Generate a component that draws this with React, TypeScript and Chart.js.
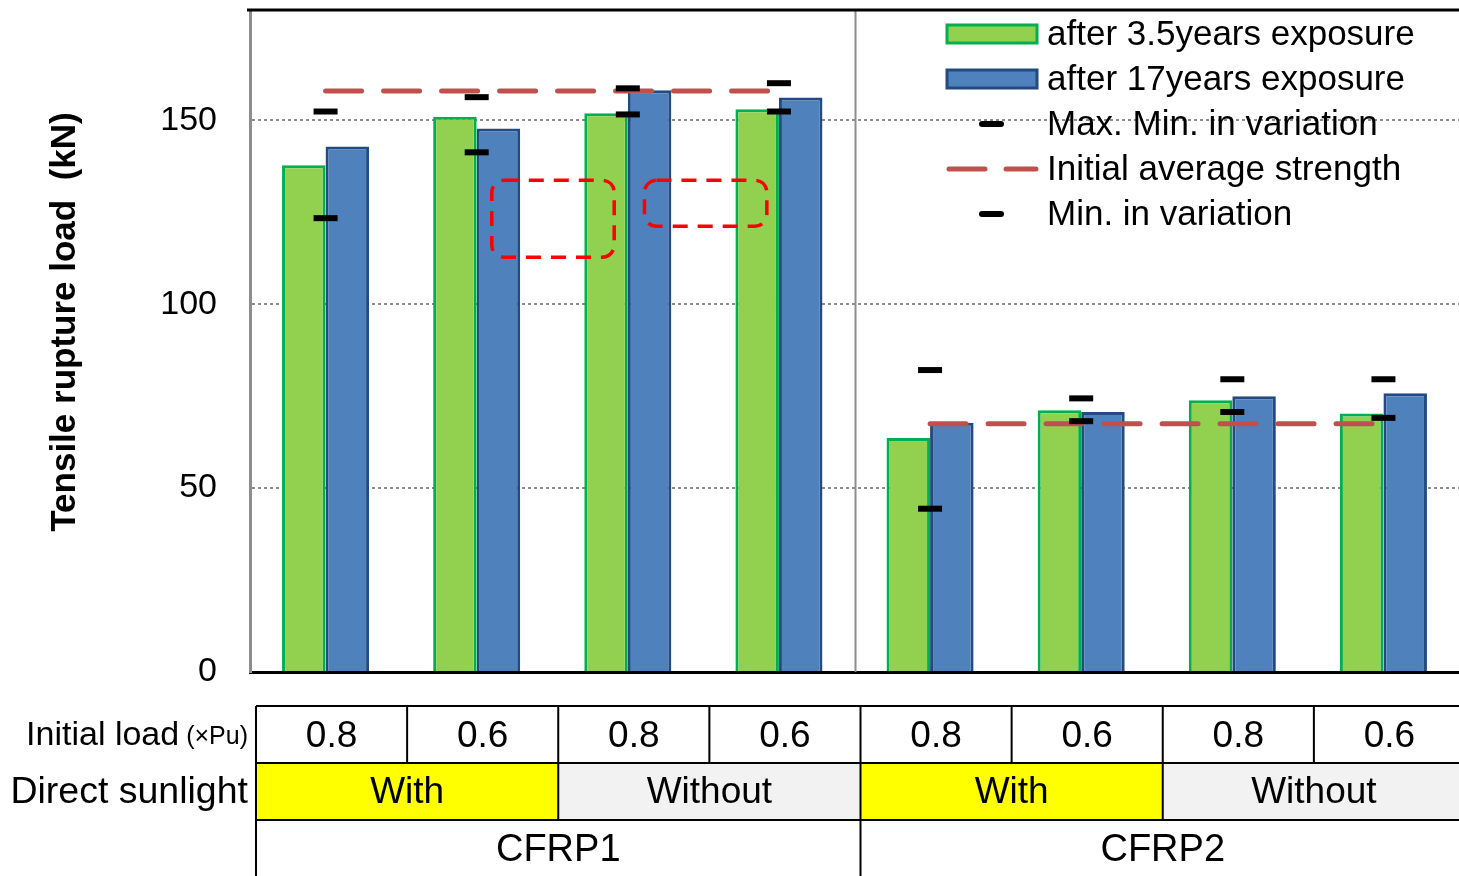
import React, { useEffect, useRef } from 'react';
import { Chart, registerables } from 'chart.js';

Chart.register(...registerables);

const FONT = '"Liberation Sans", Arial, sans-serif';

const categories = [
  'CFRP1 0.8 With', 'CFRP1 0.6 With', 'CFRP1 0.8 Without', 'CFRP1 0.6 Without',
  'CFRP2 0.8 With', 'CFRP2 0.6 With', 'CFRP2 0.8 Without', 'CFRP2 0.6 Without',
];
const initialLoad = ['0.8', '0.6', '0.8', '0.6', '0.8', '0.6', '0.8', '0.6'];
const directSunlight = ['With', 'With', 'Without', 'Without', 'With', 'With', 'Without', 'Without'];
const material = ['CFRP1', 'CFRP1', 'CFRP1', 'CFRP1', 'CFRP2', 'CFRP2', 'CFRP2', 'CFRP2'];

const after35Years = [137.8, 151, 151.9, 153, 63.6, 71.2, 73.9, 70.3];
const after17Years = [142.9, 147.8, 158.2, 156.2, 67.8, 70.7, 75, 75.8];
const maxInVariation = [152.4, 156.3, 158.7, 160.1, 82.1, 74.4, 79.6, 79.6];
const minInVariation = [123.4, 141.3, 151.6, 152.4, 44.4, 68.2, 70.7, 69.1];
const initialAvgCFRP1 = [158, 158, 158, 158, null, null, null, null];
const initialAvgCFRP2 = [null, null, null, null, 67.5, 67.5, 67.5, 67.5];

const yTickValues = [0, 50, 100, 150];
const Y_MIN = 0;
const Y_MAX = 180;

// highlighted areas: category-index span and value span
const highlightFrom = [1.1, 2.11];
const highlightTo = [1.91, 2.92];
const highlightLow = [112.8, 121.2];
const highlightHigh = [133.7, 133.7];

const legendLabels = [
  'after 3.5years exposure',
  'after 17years exposure',
  'Max. Min. in variation',
  'Initial average strength',
  'Min. in variation',
];

const GREEN = '#92D050';
const GREEN_BORDER = '#00B050';
const BLUE = '#4F81BD';
const BLUE_BORDER = '#234B82';
const RED = '#C0504D';

function spans(keys: string[]) {
  const out: { start: number; end: number; idx: number }[] = [];
  let s = 0;
  for (let i = 1; i <= keys.length; i++) {
    if (i === keys.length || keys[i] !== keys[s]) {
      out.push({ start: s, end: i, idx: s });
      s = i;
    }
  }
  return out;
}

const extrasPlugin = {
  id: 'extras',
  beforeDatasetsDraw(chart: any) {
    const { ctx, chartArea, scales } = chart;
    const x = scales.x;
    const sepX = (x.getPixelForValue(3) + x.getPixelForValue(4)) / 2 + 1;
    ctx.save();
    ctx.strokeStyle = '#8c8c8c';
    ctx.lineWidth = 2;
    ctx.beginPath();
    ctx.moveTo(sepX, chartArea.top);
    ctx.lineTo(sepX, chartArea.bottom);
    ctx.stroke();
    ctx.restore();
  },
  afterDatasetsDraw(chart: any) {
    const { ctx, scales } = chart;
    const x = scales.x;
    const y = scales.y;
    const step = x.getPixelForValue(1) - x.getPixelForValue(0);
    const catPx = (c: number) => x.getPixelForValue(0) + c * step;
    ctx.save();
    ctx.strokeStyle = '#FF0000';
    ctx.lineWidth = 3.5;
    ctx.setLineDash([15, 10]);
    for (let i = 0; i < highlightFrom.length; i++) {
      const x0 = catPx(highlightFrom[i]);
      const x1 = catPx(highlightTo[i]);
      const y0 = y.getPixelForValue(highlightHigh[i]);
      const y1 = y.getPixelForValue(highlightLow[i]);
      ctx.beginPath();
      (ctx as any).roundRect(x0, y0, x1 - x0, y1 - y0, 12);
      ctx.stroke();
    }
    ctx.restore();
  },
  afterDraw(chart: any) {
    const { ctx, chartArea, scales, width, height } = chart;
    const x = scales.x;
    ctx.save();
    // top frame line
    ctx.strokeStyle = '#000';
    ctx.lineWidth = 3;
    ctx.beginPath();
    ctx.moveTo(chartArea.left - 3, chartArea.top);
    ctx.lineTo(chartArea.right, chartArea.top);
    ctx.stroke();

    // y axis title
    ctx.save();
    ctx.translate(65, 322);
    ctx.rotate(-Math.PI / 2);
    ctx.font = `bold 35px ${FONT}`;
    ctx.fillStyle = '#000';
    ctx.textAlign = 'center';
    ctx.textBaseline = 'middle';
    ctx.fillText('Tensile rupture load  (kN)', 0, 0);
    ctx.restore();

    // legend
    const lx = chartArea.right - 513;
    const ly0 = chartArea.top + 24;
    const lstep = 45;
    const ds = chart.data.datasets;
    ctx.textBaseline = 'middle';
    ctx.textAlign = 'left';
    ctx.font = `35px ${FONT}`;
    for (let i = 0; i < legendLabels.length; i++) {
      const cy = ly0 + i * lstep;
      if (i === 0 || i === 1) {
        const d = ds[i];
        ctx.fillStyle = d.backgroundColor;
        ctx.fillRect(lx + 1, cy - 9, 90, 18);
        ctx.strokeStyle = d.borderColor;
        ctx.lineWidth = 3;
        ctx.setLineDash([]);
        ctx.strokeRect(lx + 1, cy - 9, 90, 18);
      } else if (i === 2 || i === 4) {
        ctx.strokeStyle = '#000';
        ctx.lineWidth = 6;
        ctx.setLineDash([]);
        ctx.lineCap = 'round';
        ctx.beginPath();
        ctx.moveTo(lx + 36, cy);
        ctx.lineTo(lx + 55, cy);
        ctx.stroke();
        ctx.lineCap = 'butt';
      } else {
        ctx.strokeStyle = RED;
        ctx.lineWidth = 5;
        ctx.lineCap = 'round';
        ctx.setLineDash([]);
        ctx.beginPath();
        ctx.moveTo(lx + 3, cy);
        ctx.lineTo(lx + 39, cy);
        ctx.moveTo(lx + 60, cy);
        ctx.lineTo(lx + 90, cy);
        ctx.stroke();
        ctx.lineCap = 'butt';
      }
      ctx.fillStyle = '#000';
      ctx.fillText(legendLabels[i], lx + 101, cy + 1);
    }

    // table
    const colW = x.getPixelForValue(1) - x.getPixelForValue(0);
    const tLeft = chartArea.left + 6;
    const colX = (i: number) => tLeft + i * colW;
    const r0 = chartArea.bottom + 34;
    const rh = 57;
    const rows = [r0, r0 + rh, r0 + 2 * rh, height];

    const sunSpans = spans(material.map((m, i) => m + '|' + directSunlight[i]));
    for (const s of sunSpans) {
      ctx.fillStyle = directSunlight[s.idx] === 'With' ? '#FFFF00' : '#F2F2F2';
      const right = s.end === directSunlight.length ? width : colX(s.end);
      ctx.fillRect(colX(s.start), rows[1], right - colX(s.start), rh);
    }

    ctx.strokeStyle = '#000';
    ctx.lineWidth = 2;
    ctx.setLineDash([]);
    ctx.beginPath();
    for (let r = 0; r < 3; r++) {
      ctx.moveTo(tLeft, rows[r]);
      ctx.lineTo(width, rows[r]);
    }
    for (let i = 0; i < initialLoad.length; i++) {
      ctx.moveTo(colX(i), rows[0]);
      ctx.lineTo(colX(i), rows[1]);
    }
    for (const s of sunSpans) {
      ctx.moveTo(colX(s.start), rows[1]);
      ctx.lineTo(colX(s.start), rows[2]);
    }
    const matSpans = spans(material);
    for (const s of matSpans) {
      ctx.moveTo(colX(s.start), rows[2]);
      ctx.lineTo(colX(s.start), rows[3]);
    }
    ctx.stroke();

    ctx.fillStyle = '#000';
    ctx.textAlign = 'center';
    ctx.textBaseline = 'middle';
    ctx.font = `37px ${FONT}`;
    for (let i = 0; i < initialLoad.length; i++) {
      ctx.fillText(initialLoad[i], colX(i) + colW / 2, rows[0] + rh / 2 + 2);
    }
    for (const s of sunSpans) {
      ctx.fillText(directSunlight[s.idx], (colX(s.start) + colX(s.end)) / 2, rows[1] + rh / 2 + 1);
    }
    ctx.font = `38px ${FONT}`;
    for (const s of matSpans) {
      ctx.fillText(material[s.idx], (colX(s.start) + colX(s.end)) / 2, rows[2] + rh / 2 + 2);
    }

    // row headers
    const hx = chartArea.left - 2;
    ctx.textAlign = 'right';
    ctx.font = `25px ${FONT}`;
    const unit = '(×Pu)';
    const uw = ctx.measureText(unit).width;
    ctx.fillText(unit, hx, rows[0] + rh / 2 + 3);
    ctx.font = `34px ${FONT}`;
    ctx.fillText('Initial load', hx - uw - 7, rows[0] + rh / 2 + 1);
    ctx.font = `37.5px ${FONT}`;
    ctx.fillText('Direct sunlight', hx, rows[1] + rh / 2 + 1);
    ctx.restore();
  },
};

export default function App() {
  const ref = useRef<HTMLCanvasElement | null>(null);
  useEffect(() => {
    document.body.style.margin = '0';
    const canvas = ref.current;
    if (!canvas) return;
    const chart = new Chart(canvas, {
      type: 'bar',
      data: {
        labels: categories,
        datasets: [
          {
            type: 'bar',
            label: legendLabels[0],
            data: after35Years,
            backgroundColor: GREEN,
            borderColor: GREEN_BORDER,
            borderWidth: 3,
            order: 3,
          },
          {
            type: 'bar',
            label: legendLabels[1],
            data: after17Years,
            backgroundColor: BLUE,
            borderColor: BLUE_BORDER,
            borderWidth: 3,
            order: 3,
          },
          {
            type: 'line',
            label: legendLabels[3],
            data: initialAvgCFRP1,
            borderColor: RED,
            backgroundColor: RED,
            borderWidth: 5,
            borderDash: [36, 22],
            borderCapStyle: 'round',
            pointRadius: 0,
            spanGaps: false,
            order: 2,
          },
          {
            type: 'line',
            label: legendLabels[3] + ' (CFRP2)',
            data: initialAvgCFRP2,
            borderColor: RED,
            backgroundColor: RED,
            borderWidth: 5,
            borderDash: [36, 22],
            borderCapStyle: 'round',
            pointRadius: 0,
            spanGaps: false,
            order: 2,
          },
          {
            type: 'line',
            label: legendLabels[2],
            data: maxInVariation,
            showLine: false,
            pointStyle: 'line',
            pointRadius: 12,
            pointBorderWidth: 6,
            pointBorderColor: '#000',
            pointBackgroundColor: '#000',
            borderColor: '#000',
            order: 1,
          },
          {
            type: 'line',
            label: legendLabels[4],
            data: minInVariation,
            showLine: false,
            pointStyle: 'line',
            pointRadius: 12,
            pointBorderWidth: 6,
            pointBorderColor: '#000',
            pointBackgroundColor: '#000',
            borderColor: '#000',
            order: 1,
          },
        ] as any,
      },
      options: {
        responsive: false,
        animation: false,
        events: [],
        layout: { autoPadding: false, padding: { top: 10, bottom: 204, left: 0, right: 0 } },
        datasets: {
          bar: { categoryPercentage: 0.576, barPercentage: 1 },
        },
        plugins: {
          legend: { display: false },
          tooltip: { enabled: false },
        },
        scales: {
          x: {
            type: 'category',
            offset: true,
            grid: { display: false, drawTicks: false },
            ticks: { display: false },
            border: { display: true, color: '#000', width: 3 },
            afterFit: (s: any) => {
              s.height = 0;
              s.paddingLeft = 0;
              s.paddingRight = 0;
              s.paddingTop = 0;
              s.paddingBottom = 0;
            },
          },
          y: {
            min: Y_MIN,
            max: Y_MAX,
            afterBuildTicks: (s: any) => {
              s.ticks = yTickValues.map((v) => ({ value: v }));
            },
            ticks: {
              padding: 33,
              color: '#000',
              font: { family: FONT, size: 34 },
            },
            grid: {
              color: (c: any) => (c.tick && c.tick.value === 0 ? 'rgba(0,0,0,0)' : '#8c8c8c'),
              lineWidth: 2,
              drawTicks: false,
            },
            border: { color: '#8c8c8c', width: 3, dash: [3, 3] },
            afterFit: (s: any) => {
              s.width = 250;
              s.paddingLeft = 0;
              s.paddingRight = 0;
              s.paddingTop = 0;
              s.paddingBottom = 0;
            },
          },
        },
      } as any,
      plugins: [extrasPlugin],
    });
    return () => chart.destroy();
  }, []);
  return <canvas ref={ref} width={1459} height={876} style={{ display: 'block' }} />;
}
